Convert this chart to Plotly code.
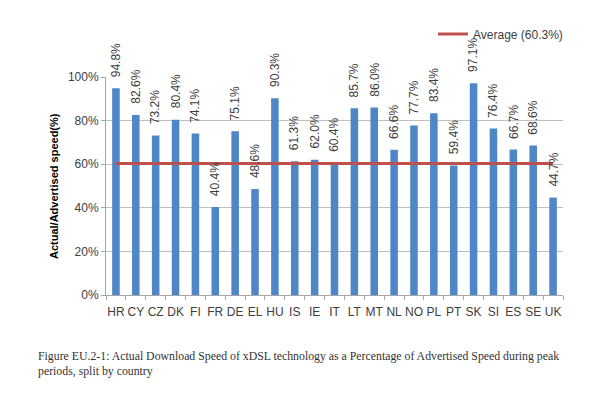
import plotly.graph_objects as go

countries = ["HR", "CY", "CZ", "DK", "FI", "FR", "DE", "EL", "HU", "IS", "IE", "IT",
             "LT", "MT", "NL", "NO", "PL", "PT", "SK", "SI", "ES", "SE", "UK"]
speed_pct = [94.8, 82.6, 73.2, 80.4, 74.1, 40.4, 75.1, 48.6, 90.3, 61.3, 62.0, 60.4,
             85.7, 86.0, 66.6, 77.7, 83.4, 59.4, 97.1, 76.4, 66.7, 68.6, 44.7]
average_pct = 60.3
y_ticks = [0, 20, 40, 60, 80, 100]
y_tick_text = [f"{t}%" for t in y_ticks]

labels = [f"{v:.1f}%" for v in speed_pct]

# page body has an 8px margin; figure sized to fit inside the window
W, H = 584, 377
ML, MR, MT, MB = 98, 29, 69, 90
PW, PH = W - ML - MR, H - MT - MB

fig = go.Figure()
fig.add_trace(go.Bar(
    x=countries, y=speed_pct,
    marker=dict(color="#4F86C6", line=dict(width=0)),
    showlegend=False, hoverinfo="x+y",
))
fig.add_trace(go.Scatter(
    x=countries, y=[average_pct] * len(countries), mode="lines",
    line=dict(color="#C0504D", width=3),
    name=f"Average ({average_pct:.1f}%)", showlegend=True,
))

annotations = [
    dict(x=c, y=v, text=t, xref="x", yref="y", textangle=-90, showarrow=False,
         xanchor="center", yanchor="bottom", yshift=9,
         font=dict(family="Liberation Sans", size=12, color="#404040"))
    for c, v, t in zip(countries, speed_pct, labels)
]
annotations += [
    dict(text="<b>Actual/Advertised speed(%)</b>", textangle=-90,
         xref="paper", yref="paper", x=-52 / PW, y=0.5, showarrow=False,
         xanchor="center", yanchor="middle",
         font=dict(family="Liberation Sans", size=11, color="#000000")),
    dict(text="Figure EU.2-1: Actual Download Speed of xDSL technology as a Percentage of Advertised Speed during peak<br>periods, split by country",
         xref="paper", yref="paper", x=-70 / PW, y=-52 / PH, xanchor="left", yanchor="top",
         align="left", showarrow=False,
         font=dict(family="Liberation Serif", size=11.8, color="#333333")),
]

fig.update_layout(
    width=W, height=H,
    margin=dict(l=ML, r=MR, t=MT, b=MB, autoexpand=False),
    paper_bgcolor="white", plot_bgcolor="white",
    font=dict(family="Liberation Sans", size=12, color="#404040"),
    bargap=0.62,
    legend=dict(x=1.011, xanchor="right", y=261 / PH, yanchor="middle",
                orientation="h", bgcolor="rgba(0,0,0,0)",
                font=dict(size=12, color="#404040"), itemwidth=30),
    xaxis=dict(showline=True, linecolor="#a6a6a6", linewidth=1, tickangle=0,
               ticks="outside", tickson="boundaries", ticklen=4, tickcolor="#a6a6a6",
               ticklabelstandoff=6,
               tickfont=dict(size=12, color="#404040"), showgrid=False, automargin=False),
    yaxis=dict(range=[0, 100], tickvals=y_ticks, ticktext=y_tick_text,
               showline=True, linecolor="#a6a6a6", linewidth=1,
               ticks="outside", ticklen=4, tickcolor="#a6a6a6",
               gridcolor="#bfbfbf", gridwidth=1, zeroline=False, automargin=False,
               tickfont=dict(size=12, color="#404040")),
    annotations=annotations,
)

fig.write_html("out.html")
